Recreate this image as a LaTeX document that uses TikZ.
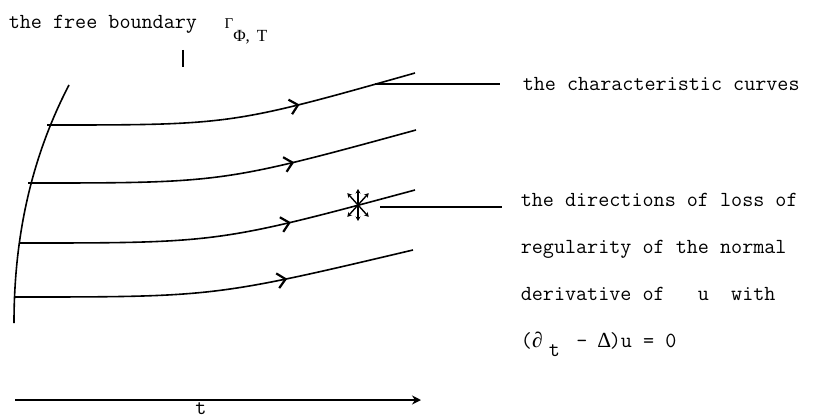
\documentclass[tikz,border=0pt]{standalone}
\usepackage{fontspec}
\usepackage{tikz}
\usetikzlibrary{arrows.meta,positioning,calc,decorations.markings}
\newfontfamily\grk{Liberation Serif}
\newcommand{\tslot}[1]{\makebox[0.525em]{#1}}

\begin{document}
\begin{tikzpicture}[
  x=1pt,y=-1pt,
  line width=1.6pt,
  txt/.style={font=\ttfamily\fontsize{21.5}{47}\selectfont,inner sep=0pt},
  charcurve/.style={decoration={markings,mark=at position 0.68 with {\arrow{Straight Barb[length=8pt,width=15pt,line width=2.2pt]}}},postaction={decorate}},
  lead/.style={line width=1.6pt},
  dbl/.style={{Stealth[length=4.5pt,width=5pt]}-{Stealth[length=4.5pt,width=5pt]},line width=1.4pt}
]
\useasboundingbox (0,0) rectangle (816,420);

% free boundary and its label
\node[txt,anchor=base west] (free) at (8,29) {the free boundary};
\node[inner sep=0pt,font=\grk\fontsize{15}{17}\selectfont,base right=26pt of free] (gam) {Γ\raisebox{-13pt}{\fontsize{17}{19}\selectfont Φ,\hspace{7pt}T}};
\coordinate (tk1) at (183,50);
\coordinate (tk2) at (183,67);
\draw (tk1) -- (tk2);
\coordinate (fb0) at (69,85);
\coordinate (fb1) at (14,323);
\draw (fb0) .. controls (30,160) and (14,240) .. (fb1);

% characteristic curves
\coordinate (b1) at (47,125);
\coordinate (e1) at (415,73);
\coordinate (b2) at (28,183);
\coordinate (e2) at (416,130);
\coordinate (b3) at (20,243);
\coordinate (e3) at (415,190);
\coordinate (b4) at (14,297);
\coordinate (e4) at (413,250);
\draw[charcurve] (b1) .. controls (231,125) .. (e1);
\draw[charcurve] (b2) .. controls (222,183) .. (e2);
\draw[charcurve] (b3) .. controls (218,243) .. (e3);
\draw[charcurve] (b4) .. controls (214,297) .. (e4);

% loss of regularity
\coordinate (star) at (358,205);
\foreach \a in {90,48,132}
  \draw[dbl] ($(star)+(\a:16)$) -- ($(star)+(\a+180:16)$);

% labels on the right
\node[txt,anchor=base west] (lblchar) at (522,90) {the characteristic curves};
\coordinate (lc1) at (375,84);
\draw[lead,shorten >=22pt] (lc1) -- (lc1 -| lblchar.west);

\node[txt,anchor=north west,align=left] (lbldir) at (520,192) {the directions of loss of\\regularity of the normal\\derivative of~~~u~~with\\(\tslot{\grk ∂}\hspace{0.26em}\raisebox{-9pt}{t}\hspace{0.26em}~-~\tslot{\grk Δ})u~=~0};
\coordinate (ld1) at (380,207);
\draw[lead,shorten >=18pt] (ld1) -- (ld1 -| lbldir.west);

% time axis
\coordinate (ax0) at (15,400);
\coordinate (ax1) at (421,400);
\draw[-{Stealth[length=9pt,width=9pt]}] (ax0) -- (ax1);
\node[txt,anchor=base] (tlbl) at (201,414) {t};
\end{tikzpicture}
\end{document}
